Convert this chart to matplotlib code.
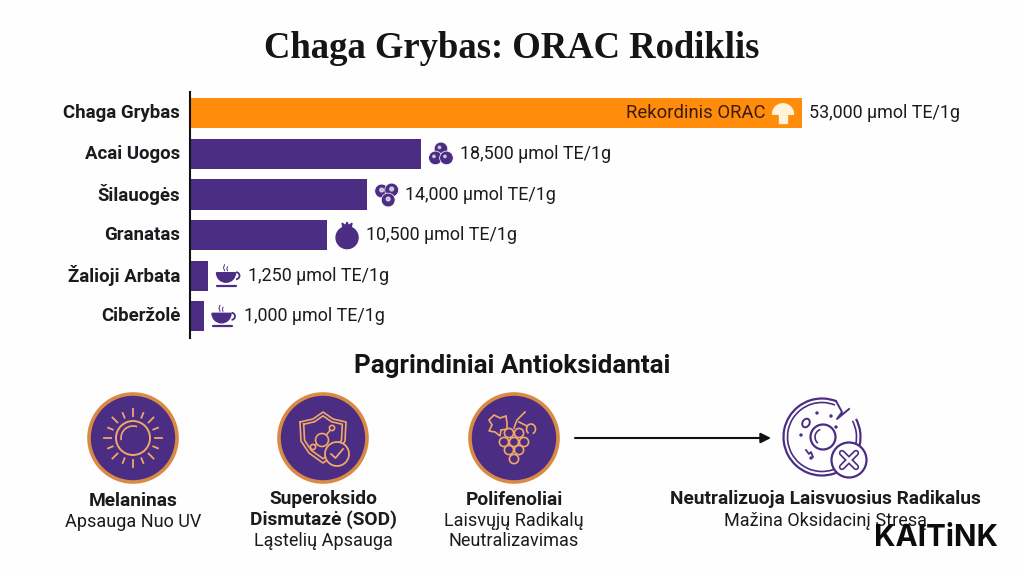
import numpy as np
import matplotlib
matplotlib.use("Agg")
import matplotlib.pyplot as plt
from matplotlib.patches import Circle, Wedge, Polygon, Ellipse, Arc, FancyArrowPatch, Rectangle

W, H = 1024, 572
PURPLE = "#4b2e83"
ORANGE = "#ff8c0a"
INK = "#1b1b1f"
RING = "#d98a45"
LINE = "#f0a868"
BG = "#fefefe"

categories = ["Chaga Grybas", "Acai Uogos", "Šilauogės", "Granatas", "Žalioji Arbata", "Ciberžolė"]
# bar lengths as drawn in the picture, they do not follow the printed numbers exactly
bar_lengths = [53000, 20000, 15300, 11870, 1560, 1170]
value_labels = ["53,000 µmol TE/1g", "18,500 µmol TE/1g", "14,000 µmol TE/1g",
                "10,500 µmol TE/1g", "1,250 µmol TE/1g", "1,000 µmol TE/1g"]
bar_colors = [ORANGE, PURPLE, PURPLE, PURPLE, PURPLE, PURPLE]
label_gaps = [7, 39, 38, 39, 40, 40]
icon_names = [None, "berries", "blueberries", "pomegranate", "cup", "cup"]

plt.rcParams["font.family"] = ["Roboto", "Noto Sans", "DejaVu Sans"]

fig = plt.figure(figsize=(W / 100, H / 100), dpi=100, facecolor=BG)

# bar chart, placed by pixels
ax = fig.add_axes([190 / W, (H - 338) / H, 612 / W, 246 / H])
ax.set_facecolor("none")
ax.barh(range(len(categories)), bar_lengths, height=0.74, color=bar_colors, zorder=2)
ax.set_xlim(0, 53000)
ax.set_ylim(5.534, -0.525)
ax.set_yticks(range(len(categories)))
ax.set_yticklabels(categories, fontsize=13.4, fontweight="bold", color=INK, va="center")
ax.tick_params(axis="y", length=0, pad=7)
ax.xaxis.set_visible(False)
for s in ["top", "right", "bottom"]:
    ax.spines[s].set_visible(False)
ax.spines["left"].set_linewidth(1.5)
ax.spines["left"].set_color("#111111")
ax.spines["left"].set_zorder(3)

# overlay in pixel coords for icons and free text
ov = fig.add_axes([0, 0, 1, 1])
ov.set_xlim(0, W)
ov.set_ylim(H, 0)
ov.axis("off")


def bar_end(i):
    x, y = ax.transData.transform((bar_lengths[i], i))
    return x, H - y


def draw_berries(x, y):
    for dx, dy in [(0, -5), (-5.5, 4), (5.5, 4)]:
        ov.add_patch(Circle((x + dx, y + dy), 6.8, fc=PURPLE, ec="white", lw=0.5))
        ov.add_patch(Circle((x + dx - 1.5, y + dy - 1.5), 1.2, color="white", alpha=0.6))


def draw_blueberries(x, y):
    for dx, dy in [(-5, -3.5), (5, -4.5), (1.5, 5.5)]:
        ov.add_patch(Circle((x + dx, y + dy), 6.9, fc=PURPLE, ec="white", lw=0.5))
        ov.add_patch(Circle((x + dx, y + dy - 1), 1.9, color="white", alpha=0.65))


def draw_pomegranate(x, y):
    ov.add_patch(Circle((x, y + 2.5), 11, color=PURPLE))
    ov.add_patch(Polygon([[x - 4, y - 7], [x - 5, y - 12], [x - 1.5, y - 9.5], [x, y - 13],
                          [x + 1.5, y - 9.5], [x + 5, y - 12], [x + 4, y - 7]], color=PURPLE))


def draw_cup(x, y):
    ov.add_patch(Wedge((x - 2, y - 3), 9.5, 0, 180, color=PURPLE))
    ov.add_patch(Arc((x + 8, y), 7, 7, theta1=-90, theta2=90, color=PURPLE, lw=1.3))
    ov.plot([x - 11, x + 8], [y + 10, y + 10], color=PURPLE, lw=1.6, solid_capstyle="round")
    ov.plot([x - 3.5, x - 4.5, x - 3.5], [y - 5, y - 8, y - 11], color=PURPLE, lw=0.7)
    ov.plot([x - 0.5, x - 1.2, x - 0.5], [y - 5, y - 7, y - 9], color=PURPLE, lw=0.7)


def draw_mushroom(x, y):
    cream = "#fff3dc"
    ov.add_patch(Wedge((x, y + 1), 10.5, 180, 360, color=cream))
    ov.add_patch(Rectangle((x - 4, y + 1), 8, 9, color=cream))


icon_draw = {"berries": draw_berries, "blueberries": draw_blueberries,
             "pomegranate": draw_pomegranate, "cup": draw_cup}

for i, lab in enumerate(value_labels):
    xe, ye = bar_end(i)
    ax.annotate(lab, (bar_lengths[i], i), xytext=(label_gaps[i] * 0.72, 0), textcoords="offset points",
                va="center", ha="left", fontsize=12.9, color=INK, annotation_clip=False)
    if icon_names[i]:
        icon_draw[icon_names[i]](xe + 20, ye)

# callout inside the orange bar
xe, ye = bar_end(0)
ov.text(xe - 37, ye, "Rekordinis ORAC", ha="right", va="center", fontsize=13.3, color="#3c1b0c")
draw_mushroom(xe - 19, ye)

# headings
ov.text(512, 49, "Chaga Grybas: ORAC Rodiklis", ha="center", va="center", fontsize=26.4,
        fontweight="bold", family="Liberation Serif", color="#151515")
ov.text(512, 366, "Pagrindiniai Antioksidantai", ha="center", va="center", fontsize=18.7,
        fontweight="bold", color="#151515")


def badge(x, y):
    ov.add_patch(Circle((x, y), 44, fc=PURPLE, ec=RING, lw=2.6))


def draw_sun(x, y):
    ov.add_patch(Circle((x, y), 17, fc="none", ec=LINE, lw=1.4))
    ov.add_patch(Arc((x, y), 24, 24, theta1=170, theta2=290, color=LINE, lw=1.2))
    for k, a in enumerate(np.arange(0, 360, 22.5)):
        r1, r2 = (22, 29) if k % 2 == 0 else (22, 27)
        c, s = np.cos(np.radians(a)), np.sin(np.radians(a))
        ov.plot([x + r1 * c, x + r2 * c], [y + r1 * s, y + r2 * s], color=LINE, lw=1.3)


def draw_shield(x, y):
    for sc in [1, 0.84]:
        px = np.array([-23, -10, 0, 10, 23, 22, 14, 0, -14, -22, -23]) * sc
        py = np.array([-14, -17, -24, -17, -14, 5, 17, 27, 17, 5, -14]) * sc
        ov.plot(x + px, y + py, color=LINE, lw=1.2)
    ov.add_patch(Circle((x - 1, y + 4), 6.5, fc=PURPLE, ec=LINE, lw=1.2, zorder=3))
    for dx, dy in [(-10, 11), (9, -8)]:
        ov.plot([x - 1, x + dx], [y + 4, y + dy], color=LINE, lw=1.2, zorder=2)
        ov.add_patch(Circle((x + dx, y + dy), 2.6, fc=PURPLE, ec=LINE, lw=1.2, zorder=3))
    ov.add_patch(Circle((x + 14, y + 18), 12, fc=PURPLE, ec=LINE, lw=1.3, zorder=4))
    ov.plot([x + 8, x + 12.5, x + 20], [y + 18, y + 22, y + 13], color=LINE, lw=1.3, zorder=5)


def draw_grapes(x, y):
    pts = [(-5, -5), (5, -5), (-10, 4), (0, 4), (10, 4), (-5, 12), (5, 12), (0, 21)]
    for dx, dy in pts:
        ov.add_patch(Circle((x + dx, y + dy), 4.6, fc=PURPLE, ec=LINE, lw=1.2))
    leaf = [(-20, -23), (-14, -20), (-8, -22), (-7, -15), (-7, -9), (-13, -8), (-14, -2),
            (-19, -6), (-25, -7), (-22, -13), (-25, -18)]
    ov.add_patch(Polygon([(x + a, y + b) for a, b in leaf], fc="none", ec=LINE, lw=1.2))
    ov.plot([x, x + 3, x + 11], [y - 10, y - 18, y - 26], color=LINE, lw=1.2)
    ov.add_patch(Arc((x + 17, y - 9), 9, 10, theta1=120, theta2=430, color=LINE, lw=1.2))
    ov.plot([x + 5, x + 13], [y - 16, y - 12], color=LINE, lw=1.2)


def draw_cell(x, y):
    ov.add_patch(Arc((x, y), 77, 77, theta1=-28, theta2=292, color=PURPLE, lw=1.6))
    ov.add_patch(Arc((x, y), 69, 69, theta1=-28, theta2=292, color=PURPLE, lw=1.2))
    ov.plot([x + 14, x + 20, x + 15, x + 27], [y - 36, y - 25, y - 18, y - 28], color=PURPLE, lw=1.4)
    ov.add_patch(Circle((x + 1, y), 12.5, fc="none", ec=PURPLE, lw=1.6))
    ov.add_patch(Arc((x + 1, y), 16, 16, theta1=130, theta2=250, color=PURPLE, lw=1.2))
    ov.add_patch(Ellipse((x - 16, y - 14), 7, 9, angle=30, fc="none", ec=PURPLE, lw=1.4))
    ov.plot([x - 16, x - 13, x - 11, x - 9], [y + 13, y + 17, y + 15, y + 20], color=PURPLE, lw=1.3)
    for dx, dy in [(-21, -2), (-5, -24), (9, -21), (14, -10), (-11, 21)]:
        ov.add_patch(Circle((x + dx, y + dy), 1, color=PURPLE))
    ov.add_patch(Circle((x + 27, y + 23), 17.5, fc=BG, ec=PURPLE, lw=1.6, zorder=4))
    for a, b in [((x + 20, y + 16), (x + 34, y + 30)), ((x + 20, y + 30), (x + 34, y + 16))]:
        ov.plot([a[0], b[0]], [a[1], b[1]], color=PURPLE, lw=4.6, zorder=5, solid_capstyle="round")
    for a, b in [((x + 20, y + 16), (x + 34, y + 30)), ((x + 20, y + 30), (x + 34, y + 16))]:
        ov.plot([a[0], b[0]], [a[1], b[1]], color=BG, lw=2.2, zorder=6, solid_capstyle="round")


badge(133, 438)
draw_sun(133, 438)
badge(323, 438)
draw_shield(323, 436)
badge(514, 438)
draw_grapes(514, 438)
draw_cell(822, 437)

ov.add_patch(FancyArrowPatch((575, 438), (771, 438), arrowstyle="-|>", mutation_scale=15,
                             color="#111111", lw=1.5, shrinkA=0, shrinkB=0))

# captions under the badges
headings = [(133, 501, "Melaninas"), (323, 499, "Superoksido"), (323, 520, "Dismutazė (SOD)"),
            (514, 500, "Polifenoliai"), (825, 499, "Neutralizuoja Laisvuosius Radikalus")]
captions = [(133, 522, "Apsauga Nuo UV"), (323, 541, "Ląstelių Apsauga"), (514, 521, "Laisvųjų Radikalų"),
            (514, 541, "Neutralizavimas"), (825, 521, "Mažina Oksidacinį Stresą")]
for x, y, t in headings:
    ov.text(x, y, t, ha="center", va="center", fontsize=13.8, fontweight="bold", color=INK)
for x, y, t in captions:
    ov.text(x, y, t, ha="center", va="center", fontsize=13, color=INK)

ov.text(936, 538, "KAITiNK", ha="center", va="center", fontsize=21.4, fontweight="bold", color="#0c0c0c",
        family="Inter", zorder=6)

fig.savefig("out.png", dpi=100, facecolor=fig.get_facecolor())
